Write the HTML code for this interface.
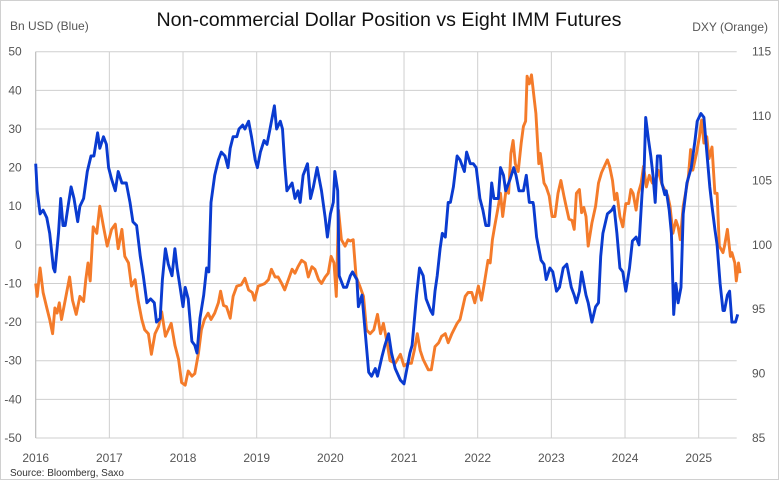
<!DOCTYPE html>
<html><head><meta charset="utf-8"><style>
html,body{margin:0;padding:0;background:#fff}
svg{display:block;font-family:"Liberation Sans",sans-serif}
</style></head><body>
<svg id="chart" width="779" height="480" viewBox="0 0 779 480" xmlns="http://www.w3.org/2000/svg">
<rect x="0.5" y="0.5" width="778" height="479" fill="#fff" stroke="#d0d0d0"/>
<text x="389" y="26" text-anchor="middle" font-size="19.6" fill="#111">Non-commercial Dollar Position vs Eight IMM Futures</text>
<text x="10" y="30" font-size="12" fill="#555">Bn USD (Blue)</text>
<text x="768" y="31" text-anchor="end" font-size="12" fill="#555">DXY (Orange)</text>
<text x="10" y="476" font-size="10" fill="#333">Source: Bloomberg, Saxo</text>
<g id="grid"></g><g id="axes"></g><g id="series"></g>
</svg>
<script>
const yearTicks=[2016,2017,2018,2019,2020,2021,2022,2023,2024,2025];
const leftTicks=[50,40,30,20,10,0,-10,-20,-30,-40,-50];
const rightTicks=[115,110,105,100,95,90,85];
const blueDates=[2016.00,2016.02,2016.06,2016.10,2016.15,2016.19,2016.24,2016.26,2016.31,2016.34,2016.37,2016.40,2016.44,2016.48,2016.52,2016.57,2016.60,2016.65,2016.70,2016.75,2016.79,2016.84,2016.87,2016.92,2016.96,2016.99,2017.03,2017.08,2017.12,2017.17,2017.23,2017.28,2017.32,2017.37,2017.42,2017.46,2017.51,2017.56,2017.61,2017.64,2017.69,2017.72,2017.76,2017.80,2017.85,2017.89,2017.92,2017.96,2018.00,2018.03,2018.07,2018.12,2018.16,2018.19,2018.23,2018.28,2018.32,2018.35,2018.38,2018.43,2018.48,2018.52,2018.57,2018.61,2018.64,2018.68,2018.73,2018.76,2018.81,2018.84,2018.89,2018.93,2018.98,2019.01,2019.05,2019.10,2019.14,2019.18,2019.24,2019.27,2019.32,2019.35,2019.38,2019.41,2019.48,2019.52,2019.56,2019.59,2019.63,2019.69,2019.73,2019.77,2019.82,2019.88,2019.93,2019.96,2020.00,2020.04,2020.06,2020.10,2020.12,2020.18,2020.22,2020.27,2020.30,2020.36,2020.38,2020.43,2020.47,2020.52,2020.56,2020.61,2020.64,2020.70,2020.74,2020.79,2020.83,2020.88,2020.95,2021.00,2021.05,2021.08,2021.11,2021.17,2021.21,2021.26,2021.30,2021.36,2021.39,2021.42,2021.45,2021.49,2021.52,2021.56,2021.60,2021.63,2021.67,2021.72,2021.76,2021.82,2021.85,2021.90,2021.94,2021.98,2022.03,2022.07,2022.11,2022.15,2022.19,2022.22,2022.28,2022.31,2022.35,2022.38,2022.44,2022.49,2022.52,2022.56,2022.62,2022.66,2022.70,2022.75,2022.76,2022.80,2022.84,2022.86,2022.90,2022.93,2022.98,2023.02,2023.07,2023.11,2023.16,2023.21,2023.27,2023.31,2023.34,2023.38,2023.41,2023.47,2023.50,2023.55,2023.60,2023.64,2023.67,2023.70,2023.76,2023.82,2023.85,2023.89,2023.93,2023.97,2024.01,2024.06,2024.10,2024.15,2024.19,2024.23,2024.26,2024.28,2024.32,2024.35,2024.38,2024.41,2024.44,2024.48,2024.50,2024.54,2024.56,2024.60,2024.63,2024.66,2024.69,2024.72,2024.76,2024.79,2024.84,2024.90,2024.95,2024.98,2025.03,2025.07,2025.11,2025.15,2025.18,2025.22,2025.25,2025.29,2025.33,2025.35,2025.39,2025.42,2025.45,2025.50,2025.53];
const blueValues=[21,14,8,9,7,3,-6,-7,3,12,5,5,10,15,12,6,10,12,19,23,23,29,25,28,26,20,17,14,19,16,16,11,6,5,-3,-8,-15,-14,-15,-20,-19,-9,-1,-5,-8,-1,-6,-11,-16,-11,-14,-25,-26,-28,-19,-13,-6,-7,11,18,22,24,23,20,25,28,28,30,31,30,32,28,22,20,24,27,26,30,36,30,32,30,21,14,16,12,14,11,18,21,12,15,20,14,7,2,8,11,19,14,-8,-11,-11,-8,-7,-9,-16,-13,-22,-33,-34,-32,-34,-29,-26,-23,-28,-32,-35,-36,-31,-28,-26,-13,-6,-8,-14,-17,-18,-12,-8,-1,3,2,11,11,15,23,22,19,24,21,21,20,12,9,5,5,16,12,12,20,18,14,17,20,18,14,14,18,11,11,10,2,-2,-4,-5,-9,-6,-7,-12,-11,-6,-5,-11,-13,-15,-12,-7,-13,-15,-20,-16,-15,-3,3,8,9,10,3,-6,-7,-12,-6,1,2,0,13,20,33,27,23,18,11,23,23,16,13,14,9,3,-18,-10,-15,-11,8,16,20,27,32,34,33,24,15,10,4,0,-10,-17,-17,-13,-12,-20,-20,-18,-13,-7];
const orangeDates=[2016.00,2016.02,2016.06,2016.10,2016.15,2016.19,2016.23,2016.26,2016.29,2016.32,2016.35,2016.40,2016.46,2016.50,2016.55,2016.60,2016.65,2016.68,2016.71,2016.74,2016.78,2016.83,2016.87,2016.92,2016.97,2017.03,2017.08,2017.12,2017.17,2017.21,2017.26,2017.30,2017.35,2017.39,2017.44,2017.48,2017.53,2017.57,2017.62,2017.67,2017.71,2017.76,2017.80,2017.84,2017.89,2017.94,2017.98,2018.03,2018.07,2018.12,2018.16,2018.21,2018.25,2018.29,2018.34,2018.38,2018.43,2018.48,2018.51,2018.55,2018.59,2018.64,2018.68,2018.73,2018.79,2018.84,2018.89,2018.94,2018.97,2019.02,2019.07,2019.11,2019.16,2019.20,2019.25,2019.29,2019.34,2019.38,2019.43,2019.48,2019.52,2019.56,2019.61,2019.66,2019.70,2019.75,2019.79,2019.84,2019.88,2019.93,2019.97,2020.01,2020.05,2020.08,2020.11,2020.15,2020.20,2020.24,2020.27,2020.31,2020.35,2020.40,2020.45,2020.49,2020.54,2020.59,2020.64,2020.68,2020.72,2020.77,2020.81,2020.88,2020.95,2021.00,2021.05,2021.10,2021.14,2021.18,2021.22,2021.26,2021.33,2021.37,2021.42,2021.47,2021.51,2021.56,2021.60,2021.65,2021.72,2021.76,2021.83,2021.87,2021.92,2021.96,2022.01,2022.05,2022.09,2022.14,2022.17,2022.20,2022.23,2022.27,2022.31,2022.34,2022.39,2022.42,2022.45,2022.48,2022.51,2022.55,2022.59,2022.62,2022.65,2022.67,2022.70,2022.73,2022.77,2022.79,2022.83,2022.85,2022.90,2022.93,2022.97,2023.01,2023.05,2023.09,2023.13,2023.17,2023.20,2023.24,2023.28,2023.31,2023.34,2023.38,2023.41,2023.44,2023.47,2023.50,2023.55,2023.60,2023.64,2023.68,2023.72,2023.76,2023.79,2023.83,2023.86,2023.89,2023.93,2023.97,2024.01,2024.05,2024.08,2024.11,2024.15,2024.18,2024.22,2024.25,2024.29,2024.33,2024.37,2024.41,2024.45,2024.50,2024.58,2024.61,2024.65,2024.69,2024.72,2024.75,2024.79,2024.83,2024.86,2024.89,2024.92,2024.97,2025.01,2025.04,2025.07,2025.11,2025.14,2025.18,2025.22,2025.25,2025.28,2025.33,2025.35,2025.39,2025.43,2025.45,2025.49,2025.51,2025.54,2025.56];
const orangeValues=[97.0,96.0,98.2,96.3,95.1,94.2,93.1,95.1,94.7,95.5,94.2,95.7,97.5,95.7,94.6,96.0,95.6,97.3,98.6,97.2,101.4,100.9,103.0,101.4,99.9,101.2,101.6,99.7,101.2,99.1,98.6,96.8,97.3,95.7,94.2,93.4,93.1,91.5,93.1,93.7,94.8,92.9,93.4,93.9,92.2,91.1,89.3,89.1,90.2,89.8,90.0,91.6,93.4,94.2,94.7,94.2,94.7,95.5,96.4,95.3,95.2,94.3,96.0,96.8,96.9,97.4,96.5,96.3,95.7,96.8,96.9,97.0,97.3,98.1,97.5,97.5,97.0,96.5,97.3,98.1,97.8,98.3,98.8,98.6,97.5,98.3,98.1,97.3,97.0,97.5,97.8,99.1,98.6,96.0,102.7,100.4,99.9,100.4,100.3,100.4,97.5,96.8,96.0,93.4,93.1,93.4,94.6,93.1,93.9,92.4,91.0,90.8,91.5,90.6,90.8,90.8,91.8,93.1,91.8,91.1,90.3,90.3,92.1,92.4,92.9,93.1,92.4,93.1,93.9,94.2,96.0,96.3,96.3,95.5,96.8,95.7,97.0,98.8,98.6,100.4,101.4,102.7,104.0,102.2,104.5,104.0,107.1,108.1,106.3,105.7,107.9,109.2,109.6,113.1,112.5,113.2,111.2,110.2,106.3,107.1,104.8,104.5,103.8,102.2,102.2,104.0,105.0,103.8,103.0,102.0,101.9,101.2,104.0,104.3,102.5,102.9,102.2,99.9,101.7,103.0,104.8,105.6,106.1,106.6,106.1,105.0,103.5,104.0,102.2,101.4,103.2,103.2,104.3,104.0,102.7,104.0,104.8,106.1,104.5,105.4,104.8,104.9,105.8,104.7,103.8,103.0,100.9,101.9,101.4,100.4,103.0,104.3,105.3,107.4,105.8,107.1,108.4,109.7,107.9,108.4,106.7,107.6,104.0,104.0,99.9,99.4,99.9,101.2,99.1,99.4,98.6,97.2,98.6,97.8,99.2,98.3];

const L=35.7,R=736.7,T=51.7,B=438;
const xScale=t=>L+(t-2016)*(663/9);
const yLeft=v=>T+(50-v)*(B-T)/100;
const yRight=v=>T+(115-v)*(B-T)/30;
const NS="http://www.w3.org/2000/svg";
function mk(tag,parent){const e=document.createElementNS(NS,tag);document.getElementById(parent).appendChild(e);return e;}

leftTicks.forEach(v=>{
  const y=yLeft(v);
  const g=mk('line','grid');
  
  
  g.setAttribute('x1',L);g.setAttribute('x2',R);g.setAttribute('y1',y);g.setAttribute('y2',y);
  g.setAttribute('stroke','#cfcfcf');g.setAttribute('stroke-width','1');
  const t=mk('text','axes');
  
  
  t.setAttribute('x',L-14);t.setAttribute('y',y+4);t.setAttribute('text-anchor','end');
  t.setAttribute('font-size','12');t.setAttribute('fill','#555');t.textContent=v;
});
rightTicks.forEach(v=>{
  const t=mk('text','axes');
  
  
  t.setAttribute('x',752);t.setAttribute('y',yRight(v)+4);
  t.setAttribute('font-size','12');t.setAttribute('fill','#555');t.textContent=v;
});
yearTicks.forEach(yr=>{
  const x=xScale(yr);
  const g=mk('line','grid');
  
  
  g.setAttribute('x1',x);g.setAttribute('x2',x);g.setAttribute('y1',T);g.setAttribute('y2',B);
  g.setAttribute('stroke','#cfcfcf');g.setAttribute('stroke-width','1');
  const t=mk('text','axes');
  
  
  t.setAttribute('x',x);t.setAttribute('y',462);t.setAttribute('text-anchor','middle');
  t.setAttribute('font-size','12');t.setAttribute('fill','#555');t.textContent=yr;
});
const bl=mk('line','grid');


bl.setAttribute('x1',L);bl.setAttribute('x2',L);bl.setAttribute('y1',T);bl.setAttribute('y2',B);bl.setAttribute('stroke','#bbb');

const op=mk('path','series');


op.setAttribute('d',orangeDates.map((d,i)=>(i?'L':'M')+xScale(d).toFixed(1)+','+yRight(orangeValues[i]).toFixed(1)).join(''));
op.setAttribute('fill','none');op.setAttribute('stroke','#f47b2a');op.setAttribute('stroke-width','2.9');op.setAttribute('stroke-linejoin','round');

const bp=mk('path','series');


bp.setAttribute('d',blueDates.map((d,i)=>(i?'L':'M')+xScale(d).toFixed(1)+','+yLeft(blueValues[i]).toFixed(1)).join(''));
bp.setAttribute('fill','none');bp.setAttribute('stroke','#0a3bd0');bp.setAttribute('stroke-width','2.9');bp.setAttribute('stroke-linejoin','round');
</script>
</body></html>
